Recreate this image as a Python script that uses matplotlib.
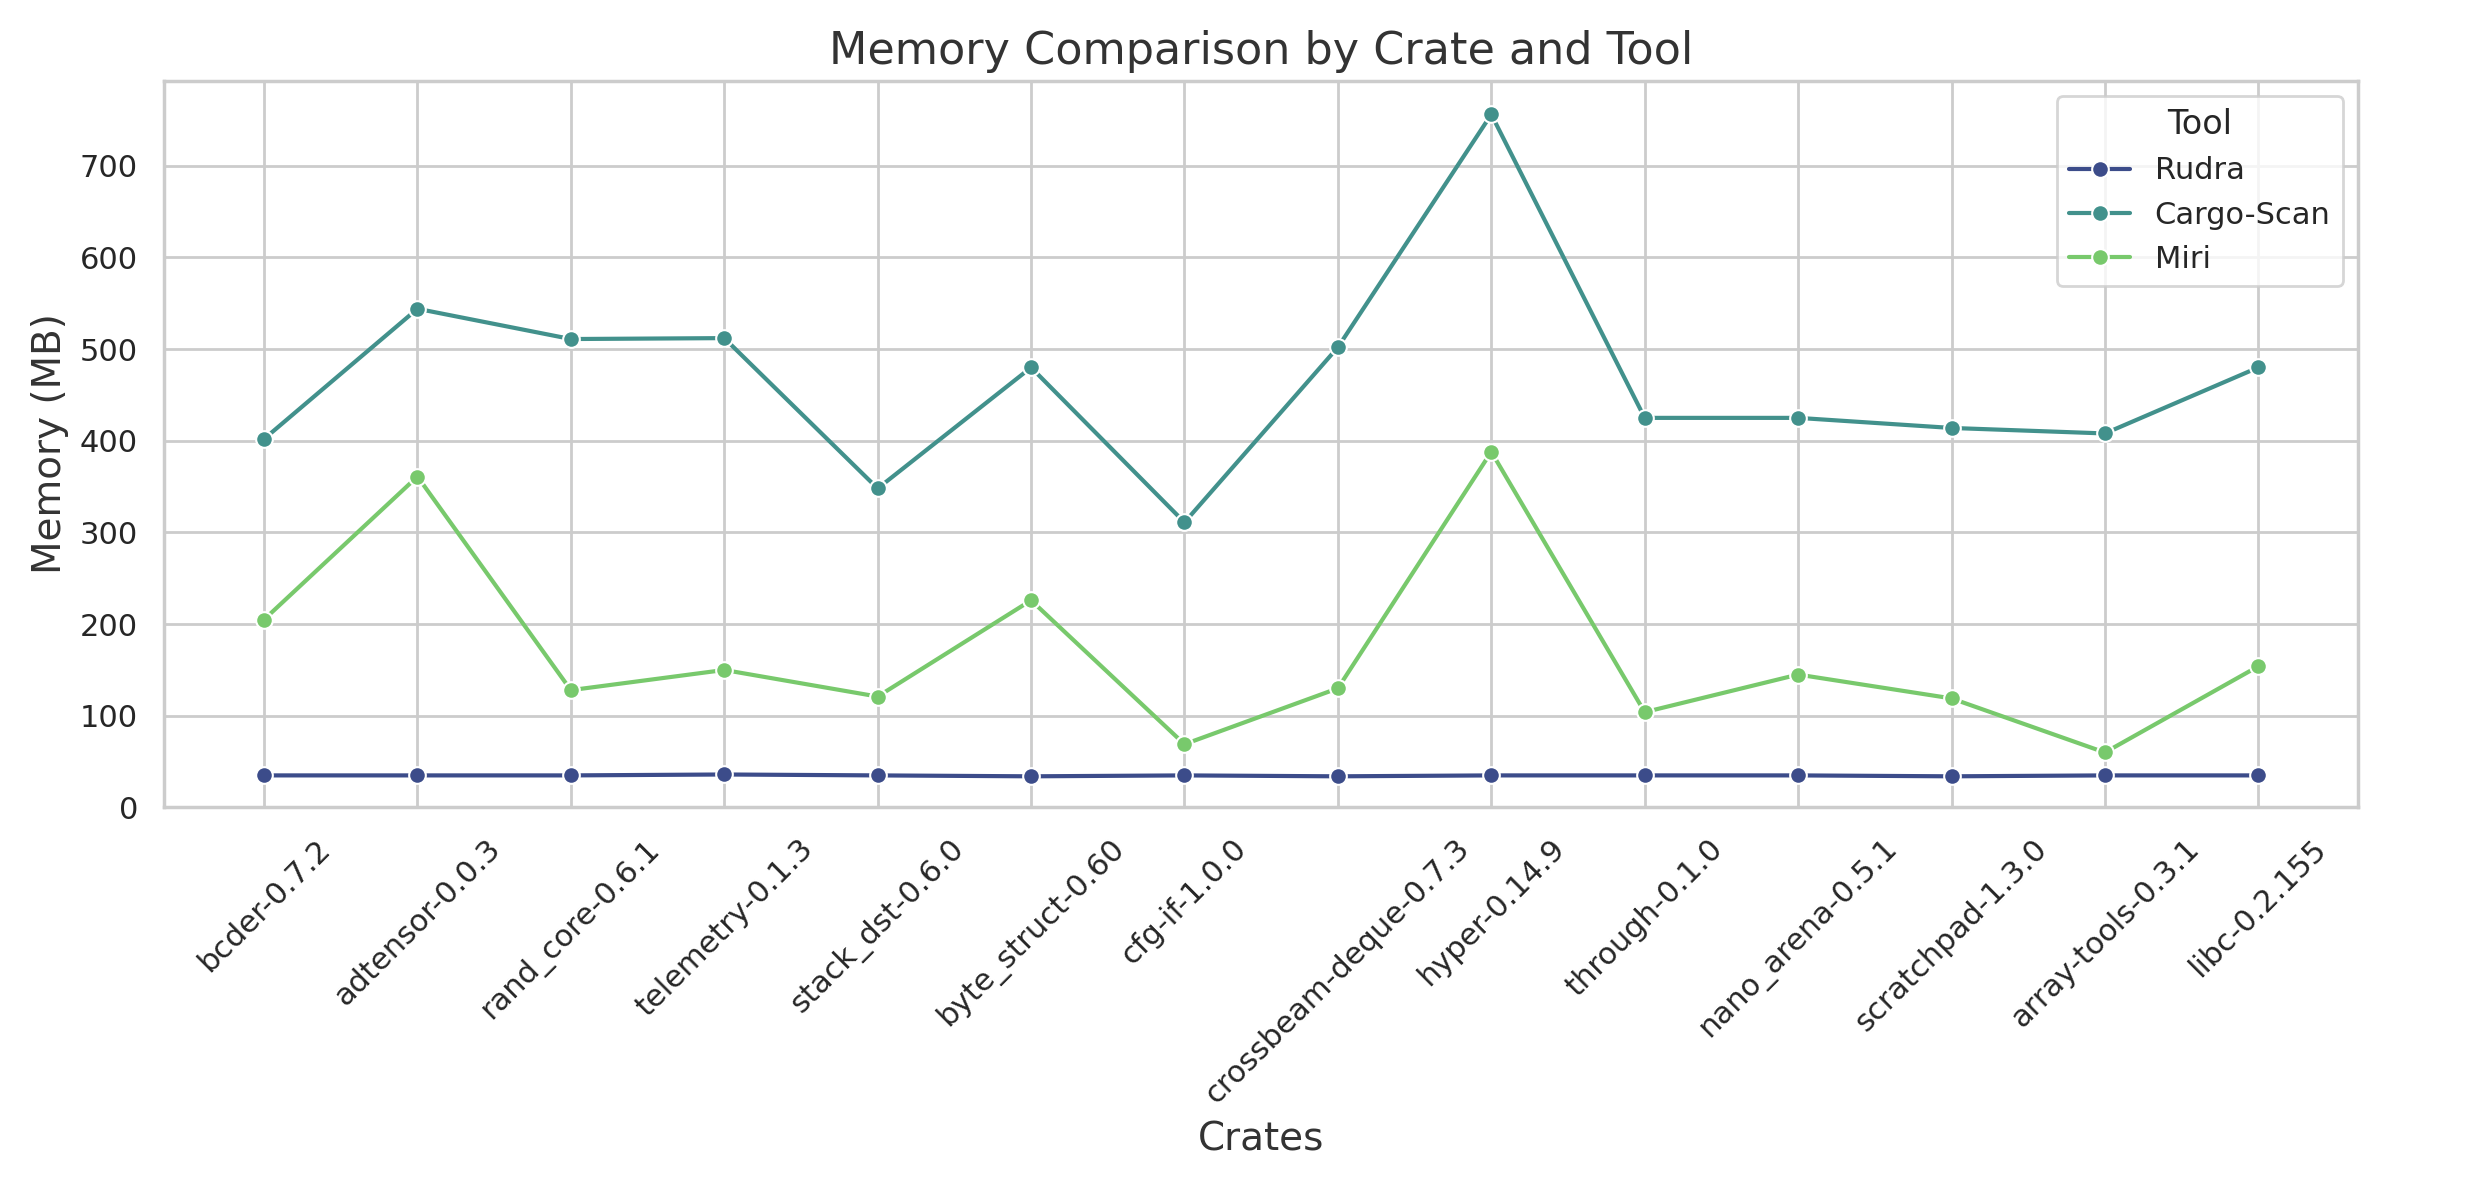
import matplotlib
matplotlib.use('Agg')
import matplotlib.pyplot as plt
import seaborn as sns
import pandas as pd

crates = ['bcder-0.7.2', 'adtensor-0.0.3', 'rand_core-0.6.1', 'telemetry-0.1.3',
          'stack_dst-0.6.0', 'byte_struct-0.60', 'cfg-if-1.0.0', 'crossbeam-deque-0.7.3',
          'hyper-0.14.9', 'through-0.1.0', 'nano_arena-0.5.1', 'scratchpad-1.3.0',
          'array-tools-0.3.1', 'libc-0.2.155']
tools = ['Rudra', 'Cargo-Scan', 'Miri']
rudra = [35, 35, 35, 36, 35, 34, 35, 34, 35, 35, 35, 34, 35, 35]
cargo_scan = [402, 544, 511, 512, 348, 480, 311, 502, 756, 425, 425, 414, 408, 480]
miri = [205, 361, 128, 150, 121, 226, 69, 130, 388, 104, 145, 119, 60, 154]

rows = []
for tool, vals in zip(tools, [rudra, cargo_scan, miri]):
    for c, v in zip(crates, vals):
        rows.append({'Crate': c, 'Tool': tool, 'Memory': v})
df = pd.DataFrame(rows)

sns.set_theme(style='whitegrid')
plt.rcParams['font.family'] = ['DejaVu Sans']
# muted viridis, as in the reference
colors = ['#3c4c8a', '#42918c', '#78c96c']

fig = plt.figure(figsize=(12.45, 5.92), dpi=200)
ax = fig.add_axes([0.066, 0.318, 0.881, 0.614])
sns.lineplot(data=df, x='Crate', y='Memory', hue='Tool', hue_order=tools,
             palette=colors, marker='o', sort=False, ax=ax)
ax.set_ylim(0, 793)
ax.set_title('Memory Comparison by Crate and Tool', fontsize=16, color='#333333')
ax.set_xlabel('Crates', fontsize=14, color='#333333')
ax.set_ylabel('Memory (MB)', fontsize=14, color='#333333')
plt.setp(ax.get_xticklabels(), rotation=45)
ax.legend(title='Tool', loc='upper right')
fig.savefig('out.png', dpi=200)
